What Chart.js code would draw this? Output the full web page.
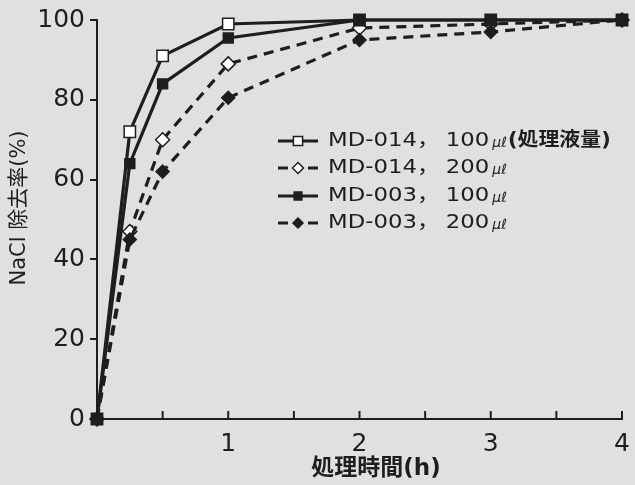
<!DOCTYPE html>
<html>
<head>
<meta charset="utf-8">
<script src="https://cdn.jsdelivr.net/npm/chart.js@4"></script>
<style>
  html, body { margin: 0; padding: 0; background: #dfe0e1; }
  #wrap { width: 635px; height: 485px; }
</style>
</head>
<body>
<div id="wrap"><canvas id="chart" width="635" height="485"></canvas></div>
<script>
// 処理時間 (h)
const hours = [0, 0.25, 0.5, 1, 2, 3, 4];
// NaCl 除去率 (%)
const md014_100 = [0, 72, 91, 99, 100, 100, 100];
const md014_200 = [0, 47, 70, 89, 98, 99, 100];
const md003_100 = [0, 64, 84, 95.5, 100, 100, 100];
const md003_200 = [0, 45, 62, 80.5, 95, 97, 100];

const seriesNames = ['MD-014', 'MD-014', 'MD-003', 'MD-003'];
const volumes = ['100', '200', '100', '200'];
const unitText = 'μℓ';
const firstNote = '(処理液量)';
const yTicks = [0, 20, 40, 60, 80, 100];
const xLabels = [1, 2, 3, 4];

const FONT = '"DejaVu Sans", "Noto Sans CJK JP", sans-serif';
const INK = '#1e1e1e';

function toPoints(vals) {
    return hours.map((h, i) => ({ x: h, y: vals[i] }));
}

const styles = [
    { dash: [], style: 'rect', radius: 8, fill: '#ffffff' },
    { dash: [10, 7], style: 'rectRot', radius: 7, fill: '#ffffff' },
    { dash: [], style: 'rect', radius: 7, fill: INK },
    { dash: [10, 7], style: 'rectRot', radius: 6.5, fill: INK }
];
const seriesData = [md014_100, md014_200, md003_100, md003_200];

const datasets = seriesData.map((vals, i) => ({
    label: seriesNames[i] + '，' + volumes[i],
    data: toPoints(vals),
    borderColor: INK,
    borderWidth: 3.2,
    borderDash: styles[i].dash,
    pointStyle: styles[i].style,
    pointRadius: styles[i].radius,
    pointBackgroundColor: styles[i].fill,
    pointBorderColor: INK,
    pointBorderWidth: 1.5,
    tension: 0,
    clip: false,
    order: i < 2 ? 2 : 1
}));

// texte étiré horizontalement (police d'origine plus large)
function stretchText(ctx, text, x, y, sx) {
    const w = ctx.measureText(text).width * sx;
    ctx.save();
    ctx.translate(x, y);
    ctx.scale(sx, 1);
    ctx.fillText(text, 0, 0);
    ctx.restore();
    return w;
}

const decorPlugin = {
    id: 'decor',
    beforeDraw(chart) {
        const ctx = chart.ctx;
        ctx.save();
        ctx.fillStyle = '#dfe0e1';
        ctx.fillRect(0, 0, chart.width, chart.height);
        ctx.restore();
    },
    afterDraw(chart) {
        const ctx = chart.ctx;
        const xs = chart.scales.x;
        const ys = chart.scales.y;
        ctx.save();
        ctx.setLineDash([]);

        // petits traits de l'axe x, vers le haut
        ctx.strokeStyle = INK;
        ctx.lineWidth = 2;
        const y0 = ys.getPixelForValue(0);
        for (let v = 0.5; v <= 4; v += 0.5) {
            const px = xs.getPixelForValue(v);
            ctx.beginPath();
            ctx.moveTo(px, y0);
            ctx.lineTo(px, y0 - 8);
            ctx.stroke();
        }

        // titres des axes
        ctx.fillStyle = INK;
        ctx.textAlign = 'center';
        ctx.textBaseline = 'middle';
        ctx.font = 'bold 23px ' + FONT;
        ctx.fillText('処理時間(h)', 376, 469);

        ctx.save();
        ctx.translate(20, 208);
        ctx.rotate(-Math.PI / 2);
        ctx.font = '21px ' + FONT;
        ctx.fillText('NaCl 除去率(%)', 0, 0);
        ctx.restore();

        // légende
        const rowY = [141, 168, 196, 223];
        chart.data.datasets.forEach((ds, i) => {
            const y = rowY[i];
            ctx.strokeStyle = INK;
            ctx.lineWidth = 3;
            ctx.beginPath();
            if (ds.borderDash.length) {
                ctx.moveTo(278, y); ctx.lineTo(288, y);
                ctx.moveTo(308, y); ctx.lineTo(318, y);
            } else {
                ctx.moveTo(278, y); ctx.lineTo(318, y);
            }
            ctx.stroke();
            ctx.fillStyle = ds.pointBackgroundColor;
            ctx.lineWidth = 1.5;
            Chart.helpers.drawPoint(ctx, {
                pointStyle: ds.pointStyle,
                radius: ds.pointRadius - 1.5,
                borderWidth: 1.5,
                rotation: 0
            }, 298, y);

            ctx.fillStyle = INK;
            ctx.textAlign = 'left';
            ctx.font = '19px ' + FONT;
            let x = 328;
            x += stretchText(ctx, seriesNames[i] + '，', x, y, 1.2);
            x += 6;
            x += stretchText(ctx, volumes[i], x, y, 1.2) + 3;
            ctx.font = 'italic 14px ' + FONT;
            x += stretchText(ctx, unitText, x, y + 2, 1.0) + 1;
            if (i === 0) {
                ctx.font = 'bold 19px ' + FONT;
                stretchText(ctx, firstNote, x, y, 1.1);
            }
        });
        ctx.restore();
    }
};

new Chart(document.getElementById('chart'), {
    type: 'line',
    data: { datasets: datasets },
    options: {
        responsive: false,
        animation: false,
        layout: { padding: { left: 0, right: 13, top: 20, bottom: 0 } },
        plugins: {
            legend: { display: false },
            tooltip: { enabled: false }
        },
        scales: {
            x: {
                type: 'linear',
                min: 0,
                max: 4,
                afterFit(scale) { scale.height = 66; },
                border: { display: true, color: INK, width: 2 },
                grid: { display: false },
                afterBuildTicks(scale) {
                    scale.ticks = xLabels.map(v => ({ value: v }));
                },
                ticks: {
                    color: INK,
                    font: { family: FONT, size: 25 },
                    padding: 2,
                    maxRotation: 0
                }
            },
            y: {
                min: 0,
                max: 100,
                afterFit(scale) { scale.width = 97; },
                afterBuildTicks(scale) {
                    scale.ticks = yTicks.map(v => ({ value: v }));
                },
                border: { display: true, color: INK, width: 2 },
                grid: {
                    drawOnChartArea: false,
                    drawTicks: true,
                    tickLength: 7,
                    color: INK,
                    lineWidth: 2
                },
                ticks: {
                    color: INK,
                    font: { family: FONT, size: 25 },
                    padding: 5
                }
            }
        }
    },
    plugins: [decorPlugin]
});
</script>
</body>
</html>
